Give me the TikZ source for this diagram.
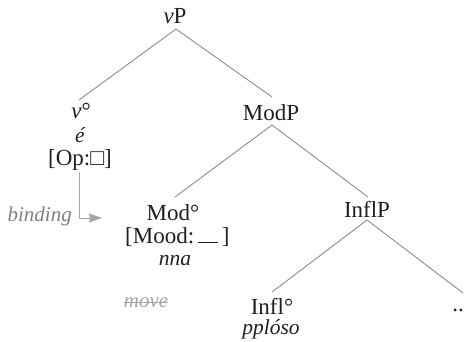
\documentclass[tikz,border=0pt]{standalone}
\usepackage{fontspec}
\setmainfont{Liberation Serif}
\usetikzlibrary{arrows.meta}
\begin{document}
\begin{tikzpicture}[x=1pt,y=-1pt,
  lbl/.style={inner sep=0pt, text=black!88, font=\fontsize{23}{27}\selectfont},
  itl/.style={inner sep=0pt, text=black!88, font=\fontsize{21.5}{26}\selectfont\itshape},
  ann/.style={inner sep=0pt, font=\fontsize{21}{25}\selectfont\itshape},
  branch/.style={draw=black!45, line width=0.9pt},
  bindarrow/.style={draw=black!35, line width=0.9pt, -{Stealth[length=13pt,width=9pt,inset=1pt]}}]
\useasboundingbox (0,0) rectangle (465,341);
% nodes
\node[lbl, anchor=base] (vP) at (175,23) {\textit{v}P};
\node[lbl, anchor=base] (v) at (81,118) {\textit{v}°};
\node[itl, anchor=base] (e) at (80,142) {é};
\node[lbl, anchor=base] (op) at (80,165) {[Op:□]};
\node[lbl, anchor=base] (ModP) at (271,120) {ModP};
\node[lbl, anchor=base] (Mod) at (173,220) {Mod°};
\node[lbl, anchor=base west] (mood) at (125,243) {[Mood:\,\rule{20pt}{0.8pt}\,]};
\node[itl, anchor=base] (nna) at (175,265) {nna};
\node[lbl, anchor=base] (InflP) at (367,217) {InflP};
\node[lbl, anchor=base] (Infl) at (272,314) {Infl°};
\node[itl, anchor=base] (pp) at (271,334) {pplóso};
\node[lbl, anchor=base east] (dots) at (464,311) {..};
\node[ann, text=black!50, anchor=base east] (bind) at (72,221) {binding};
\node[ann, text=black!35, anchor=base] (move) at (146,307) {move};
\draw[black!35, line width=0.8pt] ([yshift=5pt]move.base west) -- ([yshift=5pt]move.base east);
% branches
\draw[branch] ([shift={(1pt,-6pt)}]vP.base) -- ([shift={(-2pt,18pt)}]v.base);
\draw[branch] ([shift={(1pt,-6pt)}]vP.base) -- ([shift={(1pt,23pt)}]ModP.base);
\draw[branch] ([shift={(1pt,-5pt)}]ModP.base) -- ([shift={(2pt,23pt)}]Mod.base);
\draw[branch] ([shift={(1pt,-5pt)}]ModP.base) -- ([shift={(1pt,20pt)}]InflP.base);
\draw[branch] ([yshift=-3pt]InflP.base) -- ([yshift=22pt]Infl.base);
\draw[branch] ([yshift=-3pt]InflP.base) -- ([shift={(-1pt,18pt)}]dots.base east);
% binding arrow
\draw[bindarrow] ([shift={(-1pt,-7pt)}]op.base) |- ([shift={(-23pt,25pt)}]mood.base west);
\end{tikzpicture}
\end{document}
